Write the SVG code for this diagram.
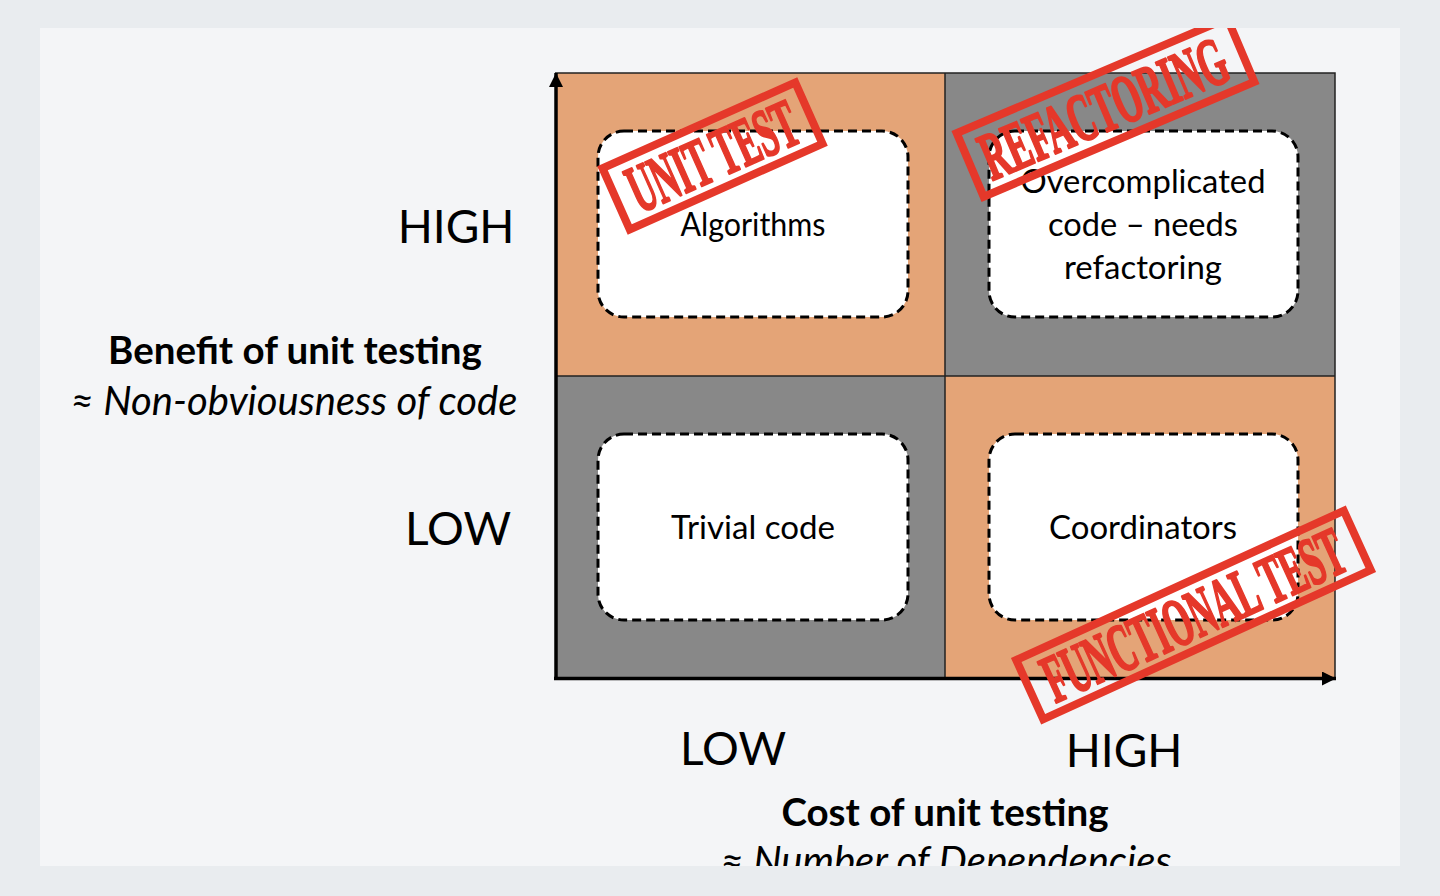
<svg xmlns="http://www.w3.org/2000/svg" width="1440" height="896" viewBox="0 0 1440 896">
<defs>
<clipPath id="panel"><rect x="40" y="28" width="1360" height="838"/></clipPath>
<marker id="arr" viewBox="0 0 10 10" refX="10" refY="5" markerWidth="4" markerHeight="4" orient="auto" markerUnits="strokeWidth"><path d="M0,0 L10,5 L0,10 z" fill="#000"/></marker>
</defs>
<style>
.lbl{font-family:Lato,"Open Sans","Liberation Sans",sans-serif;fill:#000;text-anchor:middle}
.big{font-size:46px}
.ax{font-size:38.5px;font-weight:bold}
.axi{font-size:40px;font-style:italic}
.box{fill:#fff;stroke:#000;stroke-width:3;stroke-dasharray:9 5}
.bt{font-family:Lato,"Open Sans","Liberation Sans",sans-serif;font-size:32px;fill:#000;text-anchor:middle}
.stampr{fill:none;stroke:#e5382a;stroke-width:8}
.stampt{font-family:"Liberation Serif","DejaVu Serif",serif;font-weight:bold;font-size:68px;fill:#e5382a;stroke:#e5382a;stroke-width:2.5;stroke-linejoin:round;text-anchor:middle}
.orange{fill:#e4a477}
.gray{fill:#888888}
</style>
<rect x="0" y="0" width="1440" height="896" fill="#e9ecef"/>
<rect x="40" y="28" width="1360" height="838" fill="#f4f5f7"/>
<g clip-path="url(#panel)">
<g id="quadrants">
<rect class="orange" x="555" y="73" width="390" height="303"/>
<rect class="gray" x="945" y="73" width="390" height="303"/>
<rect class="gray" x="555" y="376" width="390" height="303"/>
<rect class="orange" x="945" y="376" width="390" height="303"/>
<path d="M555,73 H1335 V679 M945,73 V679 M555,376 H1335" fill="none" stroke="#222" stroke-width="1.5"/>
</g>
<g id="axes">
<line x1="556" y1="680" x2="556" y2="73" stroke="#000" stroke-width="3.5" marker-end="url(#arr)"/>
<line x1="554" y1="678.5" x2="1336" y2="678.5" stroke="#000" stroke-width="3.5" marker-end="url(#arr)"/>
</g>
<g id="labels">
<text class="lbl big" x="456" y="243">HIGH</text>
<text class="lbl big" x="458" y="545">LOW</text>
<text class="lbl big" x="733" y="765">LOW</text>
<text class="lbl big" x="1124" y="767">HIGH</text>
<text class="lbl ax" x="295" y="364">Benefit of unit testing</text>
<text class="lbl axi" x="294" y="415">≈ Non-obviousness of code</text>
<text class="lbl ax" x="945" y="826">Cost of unit testing</text>
<text class="lbl axi" x="946" y="875">≈ Number of Dependencies</text>
</g>
<g id="algorithms">
<rect class="box" x="598" y="131" width="310" height="186" rx="26"/>
<text class="bt" x="753" y="236" textLength="145" lengthAdjust="spacingAndGlyphs">Algorithms</text>
</g>
<g id="overcomplicated">
<rect class="box" x="989" y="131" width="309" height="186" rx="26"/>
<text class="bt" x="1143" y="193" textLength="245" lengthAdjust="spacingAndGlyphs">Overcomplicated</text>
<text class="bt" x="1143" y="236" textLength="190" lengthAdjust="spacingAndGlyphs">code – needs</text>
<text class="bt" x="1143" y="279" textLength="158" lengthAdjust="spacingAndGlyphs">refactoring</text>
</g>
<g id="trivial">
<rect class="box" x="598" y="434" width="310" height="186" rx="26"/>
<text class="bt" x="753" y="539" textLength="164" lengthAdjust="spacingAndGlyphs">Trivial code</text>
</g>
<g id="coordinators">
<rect class="box" x="989" y="434" width="309" height="186" rx="26"/>
<text class="bt" x="1143" y="539" textLength="188" lengthAdjust="spacingAndGlyphs">Coordinators</text>
</g>
<g id="stamp-unit-test" transform="translate(712.5,156) rotate(-24)">
<rect class="stampr" x="-105.5" y="-33.5" width="211" height="67"/>
<text class="stampt" x="0" y="23" textLength="180" lengthAdjust="spacingAndGlyphs">UNIT TEST</text>
</g>
<g id="stamp-refactoring" transform="translate(1105.5,107.5) rotate(-23)">
<rect class="stampr" x="-147" y="-34.5" width="294" height="69"/>
<text class="stampt" x="-2" y="23" textLength="262" lengthAdjust="spacingAndGlyphs">REFACTORING</text>
</g>
<g id="stamp-functional-test" transform="translate(1193.5,615) rotate(-24.5)">
<rect class="stampr" x="-180" y="-32.5" width="360" height="65"/>
<text class="stampt" x="0" y="23" textLength="325" lengthAdjust="spacingAndGlyphs">FUNCTIONAL TEST</text>
</g>
</g>
</svg>
